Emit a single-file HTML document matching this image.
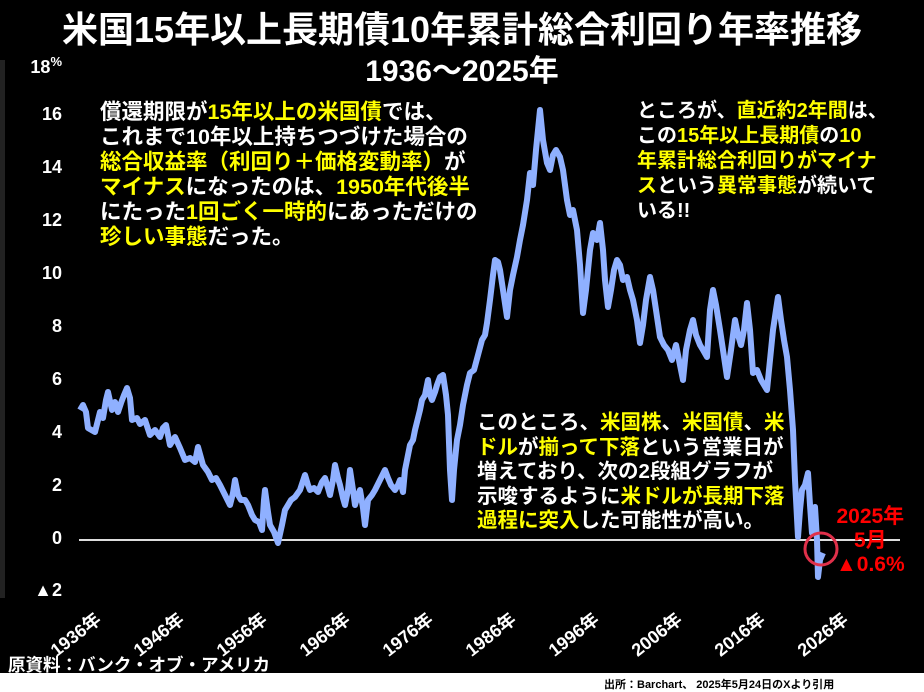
<!DOCTYPE html>
<html><head><meta charset="utf-8"><style>
body{margin:0;width:924px;height:692px;background:#000;overflow:hidden;font-family:"Liberation Sans","Noto Sans CJK JP",sans-serif;font-weight:bold;position:relative}
.t{position:absolute;color:#fff;white-space:nowrap}
.y{color:#ff0}
.yl{position:absolute;left:0;width:62px;text-align:right;color:#fff;font-size:18px}
.xl{position:absolute;color:#fff;font-size:18px;transform:rotate(-38deg);transform-origin:right center;white-space:nowrap}
</style></head><body>
<div style="position:absolute;left:0;top:60px;width:5px;height:538px;background:#222"></div>
<div class="t" style="left:0;width:924px;text-align:center;top:1px;font-size:36px">米国15年以上長期債10年累計総合利回り年率推移</div>
<div class="t" style="left:0;width:924px;text-align:center;top:46px;font-size:30px">1936～2025年</div>
<div class="yl" style="top:54px">18<sup style="font-size:13px">%</sup></div>
<div class="yl" style="top:104px">16</div>
<div class="yl" style="top:157px">14</div>
<div class="yl" style="top:210px">12</div>
<div class="yl" style="top:263px">10</div>
<div class="yl" style="top:316px">8</div>
<div class="yl" style="top:369px">6</div>
<div class="yl" style="top:422px">4</div>
<div class="yl" style="top:475px">2</div>
<div class="yl" style="top:528px">0</div>
<div class="yl" style="top:580px">▲2</div>
<svg style="position:absolute;left:0;top:0" width="924" height="692">
<line x1="79" y1="540" x2="900" y2="540" stroke="#ddd" stroke-width="2"/>
<polyline fill="none" stroke="#8fb0ff" stroke-width="6" stroke-linejoin="round" points="80,410 83,405 86,412 88,428 95,432 100,412 103,418 106,400 108,392 112,410 115,402 118,412 121,403 124,395 127,388 130,398 132,420 137,418 140,424 145,420 150,435 155,430 160,437 163,428 166,425 170,445 175,437 180,448 185,460 190,458 195,462 198,447 203,465 208,472 212,480 216,478 220,485 225,495 230,505 233,493 235,480 238,495 241,500 245,500 248,505 252,515 255,520 259,522 262,530 264,500 265,490 268,512 270,525 274,532 278,543 282,525 285,510 288,505 291,500 295,497 300,490 305,475 308,485 310,490 314,488 318,492 322,482 325,478 328,488 330,495 333,480 335,465 338,478 340,485 343,498 345,505 348,490 350,470 353,490 355,505 358,495 360,490 363,508 365,525 368,500 372,495 375,490 380,480 385,470 388,478 391,485 395,490 398,485 400,480 403,492 405,470 408,455 410,445 413,440 415,430 418,418 420,410 422,400 425,395 428,380 430,395 432,400 435,392 437,385 440,377 443,375 446,395 448,415 450,470 452,500 454,470 457,440 460,425 463,405 467,385 470,373 474,370 478,355 482,340 485,335 487,323 490,300 493,275 495,260 498,262 500,270 503,290 507,317 510,290 513,275 517,257 520,240 523,225 527,200 530,173 533,185 536,150 540,110 543,140 547,163 550,170 553,155 556,150 560,157 563,170 567,200 570,215 573,210 577,230 580,265 583,313 586,290 590,250 593,233 597,240 600,223 603,250 605,280 608,307 611,290 614,270 617,260 620,265 623,280 627,277 630,290 633,300 637,320 640,343 643,325 646,300 650,277 653,290 656,310 660,337 664,345 668,350 672,360 676,345 680,365 683,380 686,350 690,330 693,320 696,335 700,345 703,350 707,357 710,310 713,290 716,305 720,330 723,350 727,377 731,350 735,320 738,335 741,345 744,330 747,303 750,330 753,373 757,370 761,380 764,385 767,390 770,360 773,330 776,310 778,297 781,320 784,340 787,357 790,390 793,430 795,480 798,537 800,510 802,490 805,485 808,473 810,505 812,533 814,515 815,507 817,540 818,577 820,560 823,553"/>
<circle cx="821" cy="549" r="16" fill="none" stroke="#e0304a" stroke-width="3"/>
<rect x="0" y="673" width="924" height="19" fill="#fff"/>
</svg>
<div class="xl" style="right:826px;top:603px">1936年</div>
<div class="xl" style="right:743px;top:603px">1946年</div>
<div class="xl" style="right:660px;top:603px">1956年</div>
<div class="xl" style="right:577px;top:603px">1966年</div>
<div class="xl" style="right:494px;top:603px">1976年</div>
<div class="xl" style="right:411px;top:603px">1986年</div>
<div class="xl" style="right:328px;top:603px">1996年</div>
<div class="xl" style="right:245px;top:603px">2006年</div>
<div class="xl" style="right:162px;top:603px">2016年</div>
<div class="xl" style="right:79px;top:603px">2026年</div>
<div class="t" style="left:100px;top:100px;font-size:21.5px;line-height:25px">償還期限が<span class="y">15年以上の米国債</span>では、<br>これまで10年以上持ちつづけた場合の<br><span class="y">総合収益率（利回り＋価格変動率）</span>が<br><span class="y">マイナス</span>になったのは、<span class="y">1950年代後半</span><br>にたった<span class="y">1回ごく一時的</span>にあっただけの<br><span class="y">珍しい事態</span>だった。</div>
<div class="t" style="left:637px;top:99px;font-size:20px;line-height:25px">ところが、<span class="y">直近約2年間</span>は、<br>この<span class="y">15年以上長期債</span>の<span class="y">10</span><br><span class="y">年累計総合利回りがマイナ</span><br><span class="y">ス</span>という<span class="y">異常事態</span>が続いて<br>いる!!</div>
<div class="t" style="left:477px;top:411px;font-size:20.5px;line-height:24.5px">このところ、<span class="y">米国株</span>、<span class="y">米国債</span>、<span class="y">米</span><br><span class="y">ドル</span>が<span class="y">揃って下落</span>という営業日が<br>増えており、次の2段組グラフが<br>示唆するように<span class="y">米ドルが長期下落</span><br><span class="y">過程に突入</span>した可能性が高い。</div>
<div class="t" style="left:836px;top:505px;color:#f00;font-size:21px;line-height:24px;text-align:center">2025年<br>5月<br>▲0.6%</div>
<div class="t" style="left:8px;top:652px;font-size:17.5px">原資料：バンク・オブ・アメリカ</div>
<div class="t" style="left:604px;top:676px;font-size:11px;color:#000">出所：Barchart、 2025年5月24日のXより引用</div>
</body></html>
